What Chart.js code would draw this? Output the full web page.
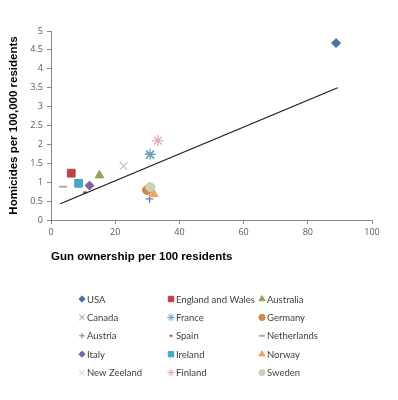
<!DOCTYPE html>
<html lang="en">
<head>
    <meta charset="UTF-8">
    <title>Gun ownership and homicides</title>
    <script src="https://cdn.jsdelivr.net/npm/chart.js"></script>
    <style>
        body {
            margin: 0;
            padding: 0;
            background: #ffffff;
        }
        #wrap {
            width: 398px;
            height: 400px;
        }
    </style>
</head>
<body>
    <div id="wrap">
        <canvas id="gunChart" width="398" height="400"></canvas>
    </div>

    <script>
        // Data
        const countries = ['USA', 'England and Wales', 'Australia', 'Canada', 'France', 'Germany', 'Austria',
            'Spain', 'Netherlands', 'Italy', 'Ireland', 'Norway', 'New Zeeland', 'Finland', 'Sweden'];
        const gunOwnership = [88.8, 6.3, 15.1, 30.8, 30.9, 29.9, 30.7, 10.6, 3.8, 12.0, 8.6, 32.0, 22.6, 33.3, 30.9];
        const homicideRate = [4.68, 1.24, 1.18, 1.72, 1.74, 0.79, 0.56, 0.73, 0.88, 0.91, 0.97, 0.69, 1.43, 2.10, 0.87];

        // trend line end points
        const trendX = [2.9, 89.3];
        const trendY = [0.43, 3.50];

        const xTicks = [0, 20, 40, 60, 80, 100];
        const yTicks = [0, 0.5, 1, 1.5, 2, 2.5, 3, 3.5, 4, 4.5, 5];

        // marker look per country (Excel-like)
        const markers = [
            { style: 'rectRot', color: '#4a6fa5', r: 4.5, fill: true },
            { style: 'rect', color: '#b8453f', r: 5.5, fill: true },
            { style: 'triangle', color: '#8fa452', r: 5, fill: true },
            { style: 'crossRot', color: '#8c8c8c', r: 5.5, fill: false },
            { style: 'star', color: '#5fa3c0', r: 5.5, fill: false },
            { style: 'circle', color: '#d08a4c', r: 4.5, fill: true },
            { style: 'cross', color: '#5f82b0', r: 4, fill: false },
            { style: 'line', color: '#b04848', r: 2, fill: false },
            { style: 'line', color: '#a3b47c', r: 4, fill: false },
            { style: 'rectRot', color: '#7b67a6', r: 4.5, fill: true },
            { style: 'rect', color: '#4aa7c6', r: 5.5, fill: true },
            { style: 'triangle', color: '#f2a463', r: 5, fill: true },
            { style: 'crossRot', color: '#c8c8c8', r: 5.5, fill: false },
            { style: 'star', color: '#e2a8b4', r: 5.5, fill: false },
            { style: 'circle', color: '#c9d2b4', r: 4.5, fill: true }
        ];

        const datasets = countries.map((name, i) => ({
            label: name,
            data: [{ x: gunOwnership[i], y: homicideRate[i] }],
            pointStyle: markers[i].style,
            pointRadius: markers[i].r,
            pointHoverRadius: markers[i].r,
            borderColor: markers[i].color,
            backgroundColor: markers[i].fill ? markers[i].color : 'transparent',
            borderWidth: markers[i].style === 'line' ? 2 : (markers[i].fill ? 1 : 1.3),
            order: -i
        }));

        datasets.push({
            label: 'trend',
            type: 'line',
            data: trendX.map((x, i) => ({ x: x, y: trendY[i] })),
            borderColor: '#1a1a1a',
            borderWidth: 1.2,
            pointRadius: 0,
            fill: false,
            order: -100
        });

        // legend in a 3-column grid under the chart
        const gridLegend = {
            id: 'gridLegend',
            afterDraw(chart) {
                const ctx = chart.ctx;
                const colX = [82, 171, 262];
                const rowY0 = 299;
                const rowStep = 18.4;
                ctx.save();
                ctx.font = '9.5px Lato, sans-serif';
                ctx.textBaseline = 'middle';
                ctx.textAlign = 'left';
                countries.forEach((name, i) => {
                    const m = markers[i];
                    const x = colX[i % 3];
                    const y = rowY0 + Math.floor(i / 3) * rowStep;
                    ctx.strokeStyle = m.color;
                    ctx.fillStyle = m.fill ? m.color : 'transparent';
                    ctx.lineWidth = m.style === 'line' ? 2 : 1;
                    Chart.helpers.drawPoint(ctx, {
                        pointStyle: m.style,
                        radius: m.r * 0.7,
                        rotation: 0,
                        borderWidth: ctx.lineWidth
                    }, x, y);
                    ctx.fillStyle = '#404040';
                    ctx.fillText(name, x + 5, y + 0.5);
                });
                ctx.restore();
            }
        };

        const ctx = document.getElementById('gunChart').getContext('2d');
        const gunChart = new Chart(ctx, {
            type: 'scatter',
            data: { datasets: datasets },
            plugins: [gridLegend],
            options: {
                responsive: false,
                animation: false,
                layout: {
                    padding: { left: 0, top: 31, right: 26, bottom: 136 }
                },
                plugins: {
                    legend: { display: false },
                    tooltip: { enabled: false }
                },
                scales: {
                    x: {
                        type: 'linear',
                        min: 0,
                        max: 100,
                        afterFit(scale) { scale.height = 44; },
                        afterBuildTicks(scale) { scale.ticks = xTicks.map(v => ({ value: v })); },
                        grid: { drawOnChartArea: false, tickLength: 4, color: '#868686' },
                        border: { color: '#868686' },
                        ticks: {
                            padding: 3,
                            color: '#595959',
                            font: { family: 'Open Sans', size: 9 },
                            callback: v => String(v)
                        },
                        title: {
                            display: true,
                            text: 'Gun ownership per 100 residents',
                            align: 'start',
                            color: '#000000',
                            padding: 0,
                            font: { family: 'Liberation Sans', size: 11.5, weight: 'bold' }
                        }
                    },
                    y: {
                        type: 'linear',
                        min: 0,
                        max: 5,
                        afterFit(scale) { scale.width = 51; },
                        afterBuildTicks(scale) { scale.ticks = yTicks.map(v => ({ value: v })); },
                        grid: { drawOnChartArea: false, tickLength: 4, color: '#868686' },
                        border: { color: '#868686' },
                        ticks: {
                            padding: 4,
                            color: '#595959',
                            font: { family: 'Open Sans', size: 9 },
                            callback: v => String(v)
                        },
                        title: {
                            display: true,
                            text: 'Homicides per 100,000 residents',
                            color: '#000000',
                            padding: { top: 7, bottom: 0 },
                            font: { family: 'Liberation Sans', size: 11.5, weight: 'bold' }
                        }
                    }
                }
            }
        });
    </script>
</body>
</html>
